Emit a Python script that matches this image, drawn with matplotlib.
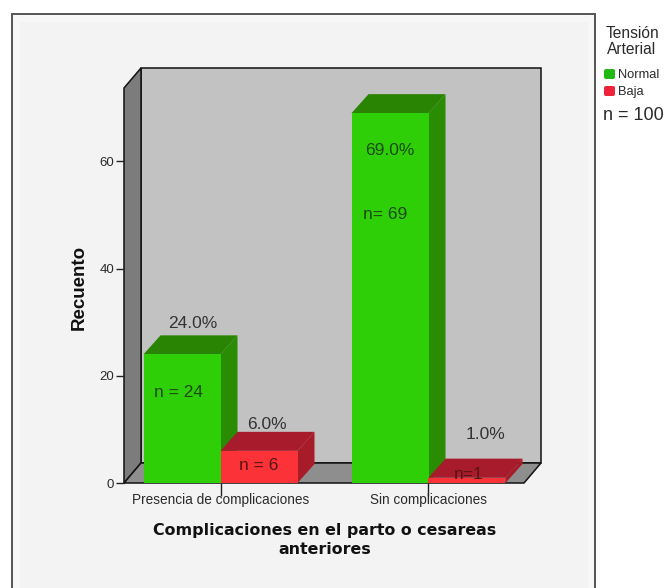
import matplotlib
matplotlib.use("Agg")
import matplotlib.pyplot as plt
from matplotlib.patches import Polygon, Rectangle, FancyBboxPatch

categories = ["Presencia de complicaciones", "Sin complicaciones"]
series_names = ["Normal", "Baja"]
normal_counts = [24, 69]
baja_counts = [6, 1]
normal_pct = ["24.0%", "69.0%"]
baja_pct = ["6.0%", "1.0%"]
normal_n = ["n = 24", "n= 69"]
baja_n = ["n = 6", "n=1"]
y_ticks = [0, 20, 40, 60]

W, H = 665, 588
green = ["#2fcf08", "#2a8c02", "#288402"]
red = ["#fb3238", "#a81b28", "#a81b2c"]
wall = "#c2c2c2"
side_wall = "#7c7c7c"
floor = "#8e8e8e"
gray_text = "#2a2a2a"
font = "Liberation Sans"

plt.rcParams["font.family"] = font

fig = plt.figure(figsize=(W / 100, H / 100), dpi=100, facecolor="white")

# frame of the chart, in pixels
bg = fig.add_axes([0, 0, 1, 1], zorder=0)
bg.set_xlim(0, W)
bg.set_ylim(H, 0)
bg.axis("off")
bg.add_patch(Rectangle((12, 14), 583, 590, fc="#f7f7f7", ec="#555555", lw=1.4))
bg.add_patch(Rectangle((20, 22), 568, 590, fc="#f3f3f3", ec="none"))

# front plane of the plot box
px_left, px_right, px_top, px_bottom = 124, 524, 88, 483
ax = fig.add_axes([px_left / W, 1 - px_bottom / H, (px_right - px_left) / W, (px_bottom - px_top) / H], zorder=1)
ax.patch.set_alpha(0)
px_per_cat = 208.0
ax.set_xlim((px_left - 220.5) / px_per_cat, (px_right - 220.5) / px_per_cat)
ax.set_ylim(0, (px_bottom - px_top) / 5.36)
dx = 17 / px_per_cat
dy = 20 / 5.36
x0, x1 = ax.get_xlim()
y0, y1 = ax.get_ylim()

# walls
ax.add_patch(Polygon([(x0 + dx, y0 + dy), (x1 + dx, y0 + dy), (x1 + dx, y1 + dy), (x0 + dx, y1 + dy)],
                     fc=wall, ec="#111111", lw=1.1, clip_on=False, zorder=1))
ax.add_patch(Polygon([(x0, y0), (x0 + dx, y0 + dy), (x0 + dx, y1 + dy), (x0, y1)],
                     fc=side_wall, ec="#111111", lw=1.1, clip_on=False, zorder=2))
ax.add_patch(Polygon([(x0, y0), (x1, y0), (x1 + dx, y0 + dy), (x0 + dx, y0 + dy)],
                     fc=floor, ec="#111111", lw=1.1, clip_on=False, zorder=2))

bar_w = 77 / px_per_cat
bar_dx = 17 / px_per_cat
bar_dy = 19 / 5.36


def bar3d(left, value, cols, z):
    right = left + bar_w
    ax.bar(left, value, width=bar_w, align="edge", color=cols[0], zorder=z + 0.2, clip_on=False)
    ax.add_patch(Polygon([(right, 0), (right + bar_dx, bar_dy), (right + bar_dx, value + bar_dy), (right, value)],
                         fc=cols[1], ec="none", clip_on=False, zorder=z))
    ax.add_patch(Polygon([(left, value), (right, value), (right + bar_dx, value + bar_dy), (left + bar_dx, value + bar_dy)],
                         fc=cols[2], ec="none", clip_on=False, zorder=z + 0.1))


for i in range(len(categories)):
    bar3d(i - bar_w, normal_counts[i], green, 3 + i * 2)
    bar3d(i, baja_counts[i], red, 4 + i * 2)

# (x, y) pixel offsets of the labels from the bar's front top-left corner
pct_off = {"n": [(49, 31), (38, -37)], "b": [(46, 26), (57, 43)]}
n_off = {"n": [(35, -38), (34, -101)], "b": [(38, -15), (40, 3)]}
for i in range(len(categories)):
    for key, vals, pcts, ns, left in (("n", normal_counts, normal_pct, normal_n, i - bar_w),
                                      ("b", baja_counts, baja_pct, baja_n, i)):
        ax.annotate(pcts[i], (left, vals[i]), xytext=pct_off[key][i], textcoords="offset pixels",
                    ha="center", va="center", fontsize=12.5, color="#333333" if not (key == "n" and i == 1) else "#1c4a10",
                    zorder=20, annotation_clip=False)
        ax.annotate(ns[i], (left, vals[i]), xytext=n_off[key][i], textcoords="offset pixels",
                    ha="center", va="center", fontsize=12.5, color="#1c4a10" if key == "n" else "#5a1414",
                    zorder=20, annotation_clip=False)

for s in ax.spines.values():
    s.set_visible(False)
ax.set_yticks(y_ticks)
ax.set_xticks(range(len(categories)))
ax.set_xticklabels(categories)
ax.tick_params(axis="y", length=6, width=1, color="#222222", labelsize=9.5, labelcolor=gray_text, pad=1)
ax.tick_params(axis="x", length=9, width=1, color="#222222", labelsize=9.8, labelcolor=gray_text, pad=-2)
ax.set_axisbelow(False)

# axis titles
bg.text(79, 287, "Recuento", rotation=90, ha="center", va="center", fontsize=13.5, fontweight="bold", color="#111111")
bg.text(325, 530, "Complicaciones en el parto o cesareas", ha="center", va="center",
        fontsize=11.4, fontweight="bold", color="#111111", family="DejaVu Sans")
bg.text(325, 549, "anteriores", ha="center", va="center",
        fontsize=11.4, fontweight="bold", color="#111111", family="DejaVu Sans")

# legend
bg.text(632, 33, "Tensión", ha="center", va="center", fontsize=11.2, color=gray_text)
bg.text(632, 50, "Arterial", ha="center", va="center", fontsize=11.2, color=gray_text)
bg.add_patch(FancyBboxPatch((604, 69), 11, 10, boxstyle="round,pad=0,rounding_size=2", fc="#22b814", ec="none"))
bg.add_patch(FancyBboxPatch((604, 86), 11, 10, boxstyle="round,pad=0,rounding_size=2", fc="#ee2238", ec="none"))
bg.text(618, 75, series_names[0], ha="left", va="center", fontsize=9.3, color=gray_text)
bg.text(618, 91.5, series_names[1], ha="left", va="center", fontsize=9.3, color=gray_text)
bg.text(603, 116, "n = 100", ha="left", va="center", fontsize=13, color=gray_text)

fig.savefig("out.png", dpi=100)
